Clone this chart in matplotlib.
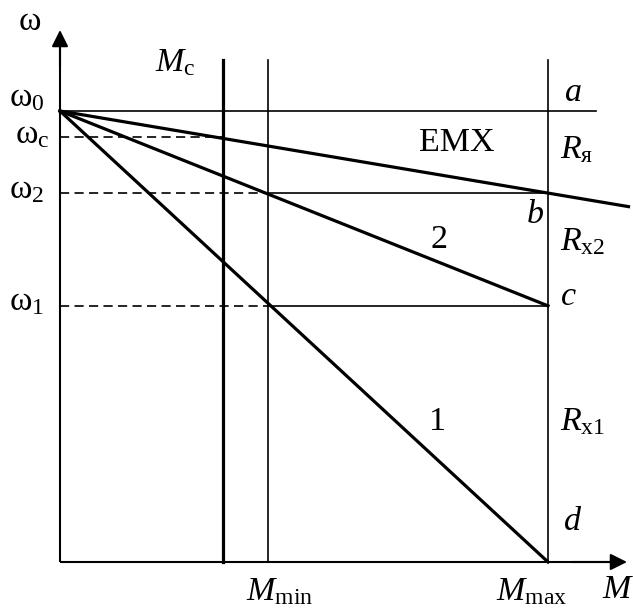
import matplotlib
matplotlib.use("Agg")
import matplotlib.pyplot as plt

plt.rcParams['mathtext.fontset'] = 'custom'
plt.rcParams['mathtext.rm'] = 'Liberation Serif'
plt.rcParams['mathtext.it'] = 'Liberation Serif:italic'
plt.rcParams['font.family'] = ['Liberation Serif', 'DejaVu Serif']

# --- data (relative units: omega0 = 1, M_max = 1) ---
w0 = 1.0
w_c = 0.942
w2 = 0.818
w1 = 0.568
M_c = 0.333
M_min = 0.426
M_max = 1.0
line_names = ['ЕМХ', '2', '1']
line_end_w = [w2, w1, 0.0]          # omega at M_max for each characteristic
emx_extend_M = 1.165                 # natural characteristic continues past M_max
top_vert = 1.113                     # top of the vertical lines
w0_line_end = 1.098

# pixel mapping (figure 633x611)
W, H = 633, 611
x0px, sx = 60, 488
y0px, sy = 562, 451

fig = plt.figure(figsize=(W / 100, H / 100), dpi=100)
ax = fig.add_axes([0, 0, 1, 1])
ax.set_xlim(-x0px / sx, (W - x0px) / sx)
ax.set_ylim(-(H - y0px) / sy, y0px / sy)
ax.axis('off')

k = 'black'
thick = 2.3
thin = 1.2
dash = (0, (5.5, 3.2))

# axes with arrows
ax.plot([0, 0], [0, 1.16], color=k, lw=1.5, solid_capstyle='butt')
ax.plot([0, 1.14], [0, 0], color=k, lw=1.5, solid_capstyle='butt')
ax.annotate('', xy=(0, (562 - 30) / sy), xytext=(0, 1.1),
            arrowprops=dict(arrowstyle='-|>,head_length=1.0,head_width=0.5', color=k, lw=1.5, shrinkA=0, shrinkB=0))
ax.annotate('', xy=((627 - x0px) / sx, 0), xytext=(1.05, 0),
            arrowprops=dict(arrowstyle='-|>,head_length=1.0,head_width=0.5', color=k, lw=1.5, shrinkA=0, shrinkB=0))

# vertical lines
ax.plot([M_c, M_c], [0, top_vert], color=k, lw=thick)
ax.plot([M_min, M_min], [0, top_vert], color=k, lw=thin)
ax.plot([M_max, M_max], [0, top_vert], color=k, lw=thin)

# omega0 line
ax.plot([0, w0_line_end], [w0, w0], color=k, lw=thin)

# characteristics
for name, we in zip(line_names, line_end_w):
    slope = (w0 - we) / M_max
    if name == 'ЕМХ':
        ax.plot([0, emx_extend_M], [w0, w0 - slope * emx_extend_M], color=k, lw=thick)
    else:
        ax.plot([0, M_max], [w0, we], color=k, lw=thick)

# horizontal switching lines
for wv in [w2, w1]:
    ax.plot([0, M_min], [wv, wv], color=k, lw=thin, linestyle=dash)
    ax.plot([M_min, M_max], [wv, wv], color=k, lw=thin)
ax.plot([0, M_c], [w_c, w_c], color=k, lw=thin, linestyle=dash)

fs = 24.5
fss = dict(fontsize=fs, color=k)

def px(x, y):
    return ((x - x0px) / sx, (y0px - y) / sy)

ax.text(*px(30, 22), r'$\mathrm{ω}$', ha='center', va='center', **fss)
ax.text(*px(27, 98), r'$\mathrm{ω}_0$', ha='center', va='center', **fss)
ax.text(*px(32, 135), r'$\mathrm{ω}_\mathrm{с}$', ha='center', va='center', **fss)
ax.text(*px(27, 190), r'$\mathrm{ω}_2$', ha='center', va='center', **fss)
ax.text(*px(27, 302), r'$\mathrm{ω}_1$', ha='center', va='center', **fss)
ax.text(*px(175, 63), r'$M_\mathrm{с}$', ha='center', va='center', **fss)
ax.text(*px(573, 93), r'$a$', ha='center', va='center', **fss)
ax.text(*px(457, 143), 'ЕМХ', ha='center', va='center', **fss)
ax.text(*px(560, 150), r'$R_\mathrm{я}$', ha='left', va='center', **fss)
ax.text(*px(535, 215), r'$b$', ha='center', va='center', **fss)
ax.text(*px(560, 242), r'$R_\mathrm{x2}$', ha='left', va='center', **fss)
ax.text(*px(439, 240), '2', ha='center', va='center', **fss)
ax.text(*px(568, 297), r'$c$', ha='center', va='center', **fss)
ax.text(*px(437, 422), '1', ha='center', va='center', **fss)
ax.text(*px(560, 422), r'$R_\mathrm{x1}$', ha='left', va='center', **fss)
ax.text(*px(573, 522), r'$d$', ha='center', va='center', **fss)
ax.text(*px(246, 592), r'$M_\mathrm{min}$', ha='left', va='center', **fss)
ax.text(*px(496, 592), r'$M_\mathrm{max}$', ha='left', va='center', **fss)
ax.text(*px(618, 590), r'$M$', ha='center', va='center', **fss)

fig.savefig('out.png', dpi=100)
